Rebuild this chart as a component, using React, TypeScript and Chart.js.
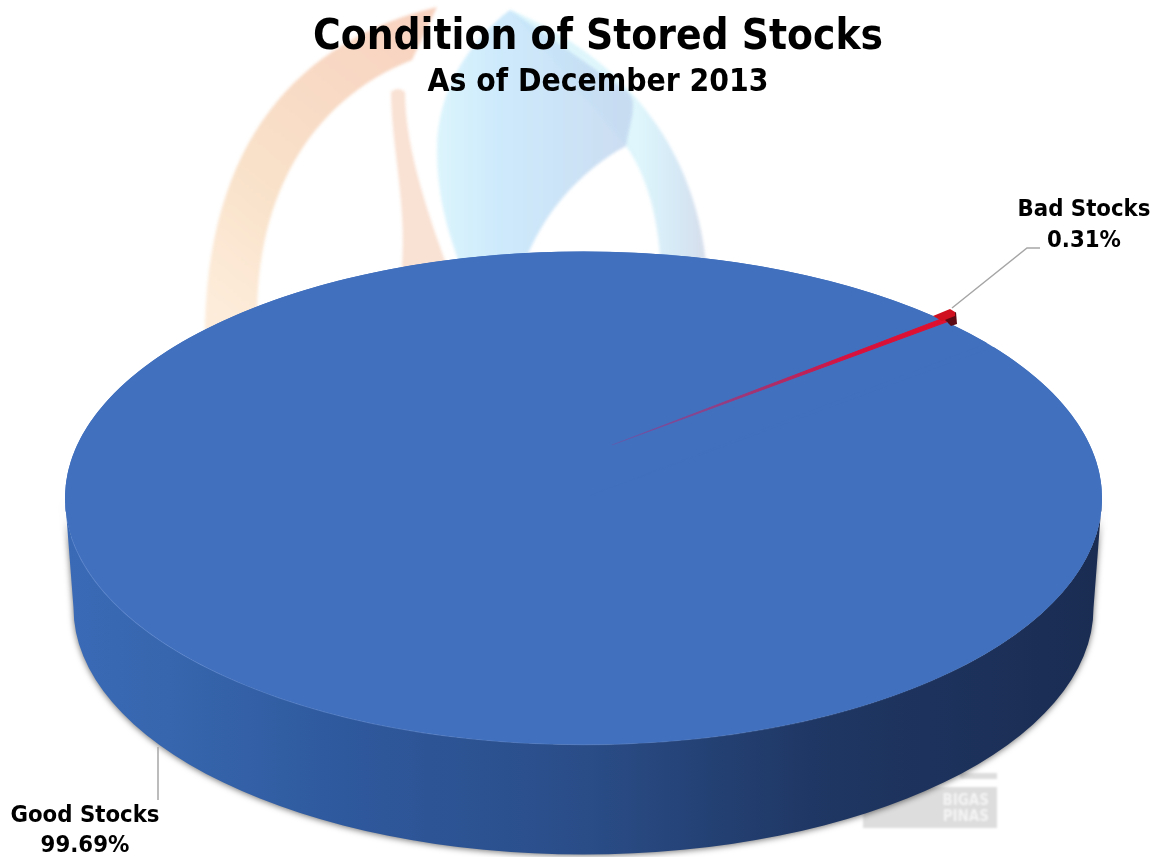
import React, { useEffect, useRef } from "react";
import { Chart, registerables } from "chart.js";

Chart.register(...registerables);

const titleText = "Condition of Stored Stocks";
const subtitleText = "As of December 2013";
const categories = ["Good Stocks", "Bad Stocks"];
const shares = [99.69, 0.31];
const sliceColors = ["#4170BE", "#D8103C"];

const FONT = '"DejaVu Sans Condensed", "DejaVu Sans", sans-serif';
const PIE = { cx: 583.5, cy: 498, a: 518.5, b: 246.5, depth: 110, baseA: 510 };
const APEX = { x: 612, y: 445 };
const WEDGE_SCALE = 0.831;
const ROTATION = 52.26;

function poly(ctx: CanvasRenderingContext2D, pts: number[][], fill: any) {
  ctx.beginPath();
  pts.forEach((p, i) => (i ? ctx.lineTo(p[0], p[1]) : ctx.moveTo(p[0], p[1])));
  ctx.closePath();
  ctx.fillStyle = fill;
  ctx.fill();
}

const watermark = {
  id: "watermark",
  beforeDraw(chart: any) {
    const ctx: CanvasRenderingContext2D = chart.ctx;
    ctx.save();
    ctx.filter = "blur(1.5px)";
    ctx.globalAlpha = 0.85;
    // right ring
    const g2 = ctx.createLinearGradient(640, 0, 710, 0);
    g2.addColorStop(0, "#d8f4fb");
    g2.addColorStop(0.5, "#cfe6f5");
    g2.addColorStop(1, "#cfd6e6");
    ctx.beginPath();
    ctx.moveTo(510, 10);
    ctx.bezierCurveTo(620, 55, 708, 150, 708, 300);
    ctx.lineTo(662, 300);
    ctx.bezierCurveTo(662, 230, 650, 180, 626, 146);
    ctx.closePath();
    ctx.fillStyle = g2;
    ctx.fill();
    // blue drop
    const g3 = ctx.createLinearGradient(437, 0, 620, 0);
    g3.addColorStop(0, "#d6f3fc");
    g3.addColorStop(0.35, "#c4e6fb");
    g3.addColorStop(1, "#c3d8f0");
    ctx.beginPath();
    ctx.moveTo(510, 10);
    ctx.bezierCurveTo(470, 40, 437, 90, 437, 150);
    ctx.bezierCurveTo(437, 200, 450, 240, 466, 280);
    ctx.lineTo(519, 280);
    ctx.bezierCurveTo(535, 220, 580, 170, 626, 146);
    ctx.bezierCurveTo(630, 120, 640, 100, 625, 90);
    ctx.closePath();
    ctx.fillStyle = g3;
    ctx.fill();
    // orange ring
    const g1 = ctx.createLinearGradient(205, 300, 437, 10);
    g1.addColorStop(0, "#fde9d4");
    g1.addColorStop(0.35, "#f8dcc0");
    g1.addColorStop(1, "#f6c9b4");
    ctx.beginPath();
    ctx.moveTo(437, 7);
    ctx.bezierCurveTo(300, 40, 205, 140, 205, 340);
    ctx.lineTo(258, 340);
    ctx.bezierCurveTo(250, 200, 310, 100, 412, 60);
    ctx.closePath();
    ctx.fillStyle = g1;
    ctx.fill();
    // orange spike
    ctx.beginPath();
    ctx.moveTo(391, 92);
    ctx.quadraticCurveTo(398, 86, 405, 92);
    ctx.bezierCurveTo(405, 150, 430, 220, 452, 280);
    ctx.lineTo(398, 300);
    ctx.bezierCurveTo(412, 220, 392, 160, 391, 92);
    ctx.closePath();
    ctx.fillStyle = "#f8dccb";
    ctx.fill();
    // faint stamp
    ctx.globalAlpha = 1;
    ctx.filter = "blur(1px)";
    ctx.fillStyle = "#dddddd";
    ctx.fillRect(863, 787, 134, 41);
    ctx.fillRect(960, 773, 37, 6);
    ctx.fillStyle = "#f4f4f4";
    ctx.font = "bold 15px " + FONT;
    ctx.textAlign = "right";
    ctx.textBaseline = "middle";
    ctx.fillText("BIGAS", 989, 801);
    ctx.fillText("PINAS", 989, 817);
    ctx.restore();
  },
};

const pie3d = {
  id: "pie3d",
  afterDatasetsUpdate(chart: any) {
    const el = chart.getDatasetMeta(0).data[1];
    if (!el) return;
    const orig = el.draw.bind(el);
    el.draw = (ctx: CanvasRenderingContext2D) => {
      const R = el.outerRadius;
      const sx = PIE.a / R;
      const sy = PIE.b / R;
      const ax = el.x + (APEX.x - PIE.cx) / sx;
      const ay = el.y + (APEX.y - PIE.cy) / sy;
      const mid = (el.startAngle + el.endAngle) / 2;
      const grad = ctx.createLinearGradient(
        el.x, el.y, el.x + Math.cos(mid) * R, el.y + Math.sin(mid) * R,
      );
      grad.addColorStop(0, "rgba(110,80,165,0.6)");
      grad.addColorStop(0.3, "rgba(150,60,130,0.9)");
      grad.addColorStop(0.7, "#D8103C");
      grad.addColorStop(1, "#E0102C");
      el.options = { ...el.options, backgroundColor: grad, borderColor: grad, borderWidth: 1.5 };
      ctx.save();
      ctx.translate(ax, ay);
      ctx.scale(WEDGE_SCALE, WEDGE_SCALE);
      ctx.translate(-el.x, -el.y);
      orig(ctx);
      ctx.restore();
    };
  },
  beforeDatasetsDraw(chart: any) {
    const ctx: CanvasRenderingContext2D = chart.ctx;
    const { cx, cy, a, b, depth, baseA } = PIE;
    ctx.save();
    const wall = ctx.createLinearGradient(cx - a, 0, cx + a, 0);
    wall.addColorStop(0, "#3A6AB6");
    wall.addColorStop(0.1, "#3766AE");
    wall.addColorStop(0.25, "#2F5A9F");
    wall.addColorStop(0.5, "#2A4D88");
    wall.addColorStop(0.72, "#1F3764");
    wall.addColorStop(1, "#1A2C52");
    ctx.beginPath();
    ctx.ellipse(cx, cy + depth, baseA, b, 0, 0, Math.PI);
    ctx.lineTo(cx - a, cy);
    ctx.ellipse(cx, cy, a, b, 0, Math.PI, 0, true);
    ctx.closePath();
    ctx.shadowColor = "rgba(0,0,0,0.55)";
    ctx.shadowBlur = 6;
    ctx.shadowOffsetX = 0;
    ctx.shadowOffsetY = 1;
    ctx.fillStyle = wall;
    ctx.fill();
    ctx.shadowColor = "transparent";
    ctx.beginPath();
    ctx.ellipse(cx, cy, a, b, 0, 0, Math.PI * 2);
    ctx.fillStyle = sliceColors[0];
    ctx.fill();
    const rim = ctx.createLinearGradient(cx - a, 0, cx + a, 0);
    rim.addColorStop(0, "rgba(105,145,215,0.7)");
    rim.addColorStop(0.6, "rgba(105,145,215,0.4)");
    rim.addColorStop(1, "rgba(105,145,215,0)");
    ctx.beginPath();
    ctx.ellipse(cx, cy, a, b, 0, Math.PI * 0.95, Math.PI * 0.1, true);
    ctx.strokeStyle = rim;
    ctx.lineWidth = 1.5;
    ctx.stroke();
    ctx.restore();
  },
  beforeDatasetDraw(chart: any) {
    const ctx: CanvasRenderingContext2D = chart.ctx;
    const el = chart.getDatasetMeta(0).data[0];
    const R = el.outerRadius;
    ctx.save();
    ctx.translate(PIE.cx, PIE.cy);
    ctx.scale(PIE.a / R, PIE.b / R);
    ctx.translate(-el.x, -el.y);
  },
  afterDatasetDraw(chart: any) {
    chart.ctx.restore();
  },
  afterDatasetsDraw(chart: any) {
    const ctx: CanvasRenderingContext2D = chart.ctx;
    const values = chart.data.datasets[0].data;
    const names = chart.data.labels;
    ctx.save();
    // raised end of the small slice
    poly(ctx, [[947, 316], [956, 312], [957, 324], [951, 326], [945, 320]], "#5E0A14");
    poly(ctx, [[933, 316], [950, 309], [955, 312], [955, 316], [942, 321]], "#D0101E");
    // leader lines
    ctx.strokeStyle = "#A6A6A6";
    ctx.lineWidth = 1.5;
    ctx.beginPath();
    ctx.moveTo(952, 308);
    ctx.lineTo(1027, 248);
    ctx.lineTo(1040, 248);
    ctx.moveTo(158, 747);
    ctx.lineTo(158, 800);
    ctx.stroke();
    // labels
    ctx.fillStyle = "#000";
    ctx.font = "bold 23.7px " + FONT;
    ctx.textAlign = "center";
    ctx.textBaseline = "middle";
    const pct = (v: number) => v.toFixed(2) + "%";
    ctx.fillText(names[1], 1084, 210);
    ctx.fillText(pct(values[1]), 1084, 241);
    ctx.fillText(names[0], 85, 816);
    ctx.fillText(pct(values[0]), 85, 846);
    ctx.restore();
  },
};

export default function App() {
  const ref = useRef<HTMLCanvasElement>(null);
  useEffect(() => {
    const chart = new Chart(ref.current as HTMLCanvasElement, {
      type: "pie",
      data: {
        labels: categories,
        datasets: [
          {
            data: shares,
            backgroundColor: sliceColors,
            borderWidth: 0,
            clip: false,
          } as any,
        ],
      },
      options: {
        animation: false,
        responsive: false,
        rotation: ROTATION,
        layout: { padding: { left: 40, right: 0, top: 0, bottom: 0 } },
        plugins: {
          legend: { display: false },
          tooltip: { enabled: false },
          title: {
            display: true,
            text: titleText,
            fullSize: false,
            color: "#000",
            font: { family: FONT, size: 42, weight: "bold" },
            padding: { top: 13, bottom: 0 },
          },
          subtitle: {
            display: true,
            text: subtitleText,
            fullSize: false,
            color: "#000",
            font: { family: FONT, size: 31.5, weight: "bold" },
            padding: { top: 1, bottom: 0 },
          },
        },
      } as any,
      plugins: [watermark, pie3d],
    });
    return () => chart.destroy();
  }, []);
  return (
    <div style={{ position: "absolute", left: 0, top: 0, width: 1156, height: 857, overflow: "hidden", background: "#fff" }}>
      <canvas ref={ref} width={1156} height={857} style={{ display: "block" }} />
    </div>
  );
}
